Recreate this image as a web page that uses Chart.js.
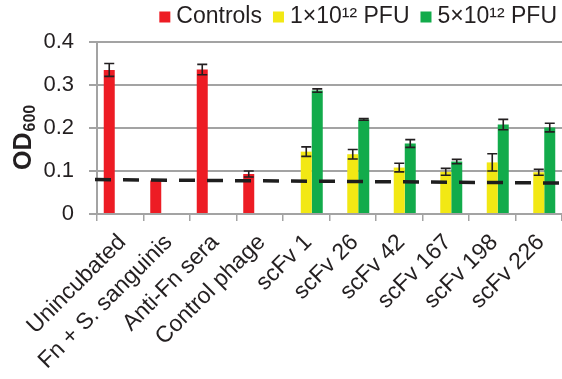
<!DOCTYPE html>
<html>
<head>
<meta charset="utf-8">
<script src="https://cdn.jsdelivr.net/npm/chart.js@4/dist/chart.umd.min.js"></script>
<style>
  html, body { margin: 0; padding: 0; background: #fff; }
  canvas { display: block; }
</style>
</head>
<body>
<canvas id="chart" width="562" height="379"></canvas>
<script>
// Samples along the x axis
const categories = ['Unincubated', 'Fn + S. sanguinis', 'Anti-Fn sera', 'Control phage',
  'scFv 1', 'scFv 26', 'scFv 42', 'scFv 167', 'scFv 198', 'scFv 226'];
const seriesNames = ['Controls', '1×10¹² PFU', '5×10¹² PFU'];

// OD600 means and error (± one SD)
const controls    = [0.335, 0.078, 0.336, 0.093, null, null, null, null, null, null];
const controlsErr = [0.015, 0, 0.012, 0.007, 0, 0, 0, 0, 0, 0];
const lowDose     = [null, null, null, null, 0.145, 0.139, 0.108, 0.098, 0.120, 0.097];
const lowDoseErr  = [0, 0, 0, 0, 0.011, 0.011, 0.010, 0.008, 0.020, 0.007];
const highDose    = [null, null, null, null, 0.287, 0.220, 0.164, 0.122, 0.208, 0.201];
const highDoseErr = [0, 0, 0, 0, 0.004, 0.002, 0.009, 0.005, 0.012, 0.010];

// Background threshold (value at left and right edge of the plot)
const cutoff = [0.080, 0.072];

const yTicks = [0, 0.1, 0.2, 0.3, 0.4];

const colors = ['#ED1C24', '#F2E814', '#12AB4B'];
const errors = [controlsErr, lowDoseErr, highDoseErr];
const textColor = '#231F20';
const axisGray = '#A3A3A3';
const FONT = 'Arial, "Liberation Sans", Helvetica, sans-serif';

const overlay = {
  id: 'overlay',
  afterDatasetsDraw(chart) {
    const ctx = chart.ctx;
    const y = chart.scales.y;
    const area = chart.chartArea;

    // dashed threshold line
    ctx.save();
    ctx.strokeStyle = '#1E1E1E';
    ctx.lineWidth = 3.5;
    ctx.setLineDash([16, 12]);
    ctx.beginPath();
    ctx.moveTo(area.left - 2, y.getPixelForValue(cutoff[0]));
    ctx.lineTo(area.right, y.getPixelForValue(cutoff[1]));
    ctx.stroke();
    ctx.restore();

    // error bars
    ctx.save();
    ctx.strokeStyle = textColor;
    ctx.lineWidth = 1.6;
    chart.data.datasets.forEach((ds, i) => {
      const meta = chart.getDatasetMeta(i);
      ds.data.forEach((v, j) => {
        const e = errors[i][j];
        if (v == null || !e) return;
        const bar = meta.data[j];
        const x = bar.x;
        const top = y.getPixelForValue(v + e);
        const bot = y.getPixelForValue(v - e);
        const hw = 5;
        ctx.beginPath();
        ctx.moveTo(x, top); ctx.lineTo(x, bot);
        ctx.moveTo(x - hw, top); ctx.lineTo(x + hw, top);
        ctx.moveTo(x - hw, bot); ctx.lineTo(x + hw, bot);
        ctx.stroke();
      });
    });
    ctx.restore();
  },
  afterDraw(chart) {
    const ctx = chart.ctx;

    // legend across the top, right aligned
    ctx.save();
    ctx.font = '23px ' + FONT;
    ctx.textBaseline = 'middle';
    ctx.fillStyle = textColor;
    const box = 11, gapIn = 6, gapOut = 11;
    const widths = seriesNames.map(s => ctx.measureText(s).width);
    let total = widths.reduce((a, w) => a + box + gapIn + w, 0) + gapOut * (seriesNames.length - 1);
    let x = 557 - total;
    const cy = 17;
    seriesNames.forEach((s, i) => {
      ctx.fillStyle = colors[i];
      ctx.fillRect(x, cy - box / 2, box, box);
      x += box + gapIn;
      ctx.fillStyle = textColor;
      ctx.fillText(s, x, cy);
      x += widths[i] + gapOut;
    });
    ctx.restore();

    // y axis title: OD with subscript 600
    ctx.save();
    ctx.fillStyle = textColor;
    ctx.translate(31, 170);
    ctx.rotate(-Math.PI / 2);
    ctx.textBaseline = 'alphabetic';
    ctx.font = 'bold 25px ' + FONT;
    ctx.fillText('OD', 0, 0);
    const w = ctx.measureText('OD').width;
    ctx.font = 'bold 16px ' + FONT;
    ctx.fillText('600', w + 1, 4);
    ctx.restore();
  }
};

new Chart(document.getElementById('chart'), {
  type: 'bar',
  data: {
    labels: categories,
    datasets: [
      { label: seriesNames[0], data: controls, backgroundColor: colors[0] },
      { label: seriesNames[1], data: lowDose, backgroundColor: colors[1] },
      { label: seriesNames[2], data: highDose, backgroundColor: colors[2] }
    ]
  },
  options: {
    responsive: false,
    animation: false,
    devicePixelRatio: 1,
    layout: { padding: { top: 42, right: 0, left: 0, bottom: 0 } },
    datasets: { bar: { categoryPercentage: 0.71, barPercentage: 1.0, borderWidth: 0 } },
    plugins: { legend: { display: false }, tooltip: { enabled: false }, title: { display: false } },
    scales: {
      x: {
        offset: true,
        grid: { offset: true, drawOnChartArea: false, drawTicks: true, tickLength: 7, color: axisGray, lineWidth: 1.5 },
        border: { color: axisGray, width: 2 },
        ticks: { color: textColor, font: { size: 23, family: FONT }, maxRotation: 45, minRotation: 45, autoSkip: false, padding: 8, labelOffset: 2 },
        afterFit(s) { s.height = 165; s.paddingLeft = 0; s.paddingRight = 0; }
      },
      y: {
        min: 0, max: 0.4,
        afterBuildTicks(s) { s.ticks = yTicks.map(v => ({ value: v })); },
        grid: { color: axisGray, lineWidth: 2, tickLength: 8 },
        border: { color: axisGray, width: 2 },
        ticks: {
          color: textColor, font: { size: 22, family: FONT }, padding: 15,
          callback: v => (v === 0 ? '0' : v.toFixed(1))
        },
        afterFit(s) { s.width = 97; s.paddingTop = 0; s.paddingBottom = 0; }
      }
    }
  },
  plugins: [overlay]
});
</script>
</body>
</html>
